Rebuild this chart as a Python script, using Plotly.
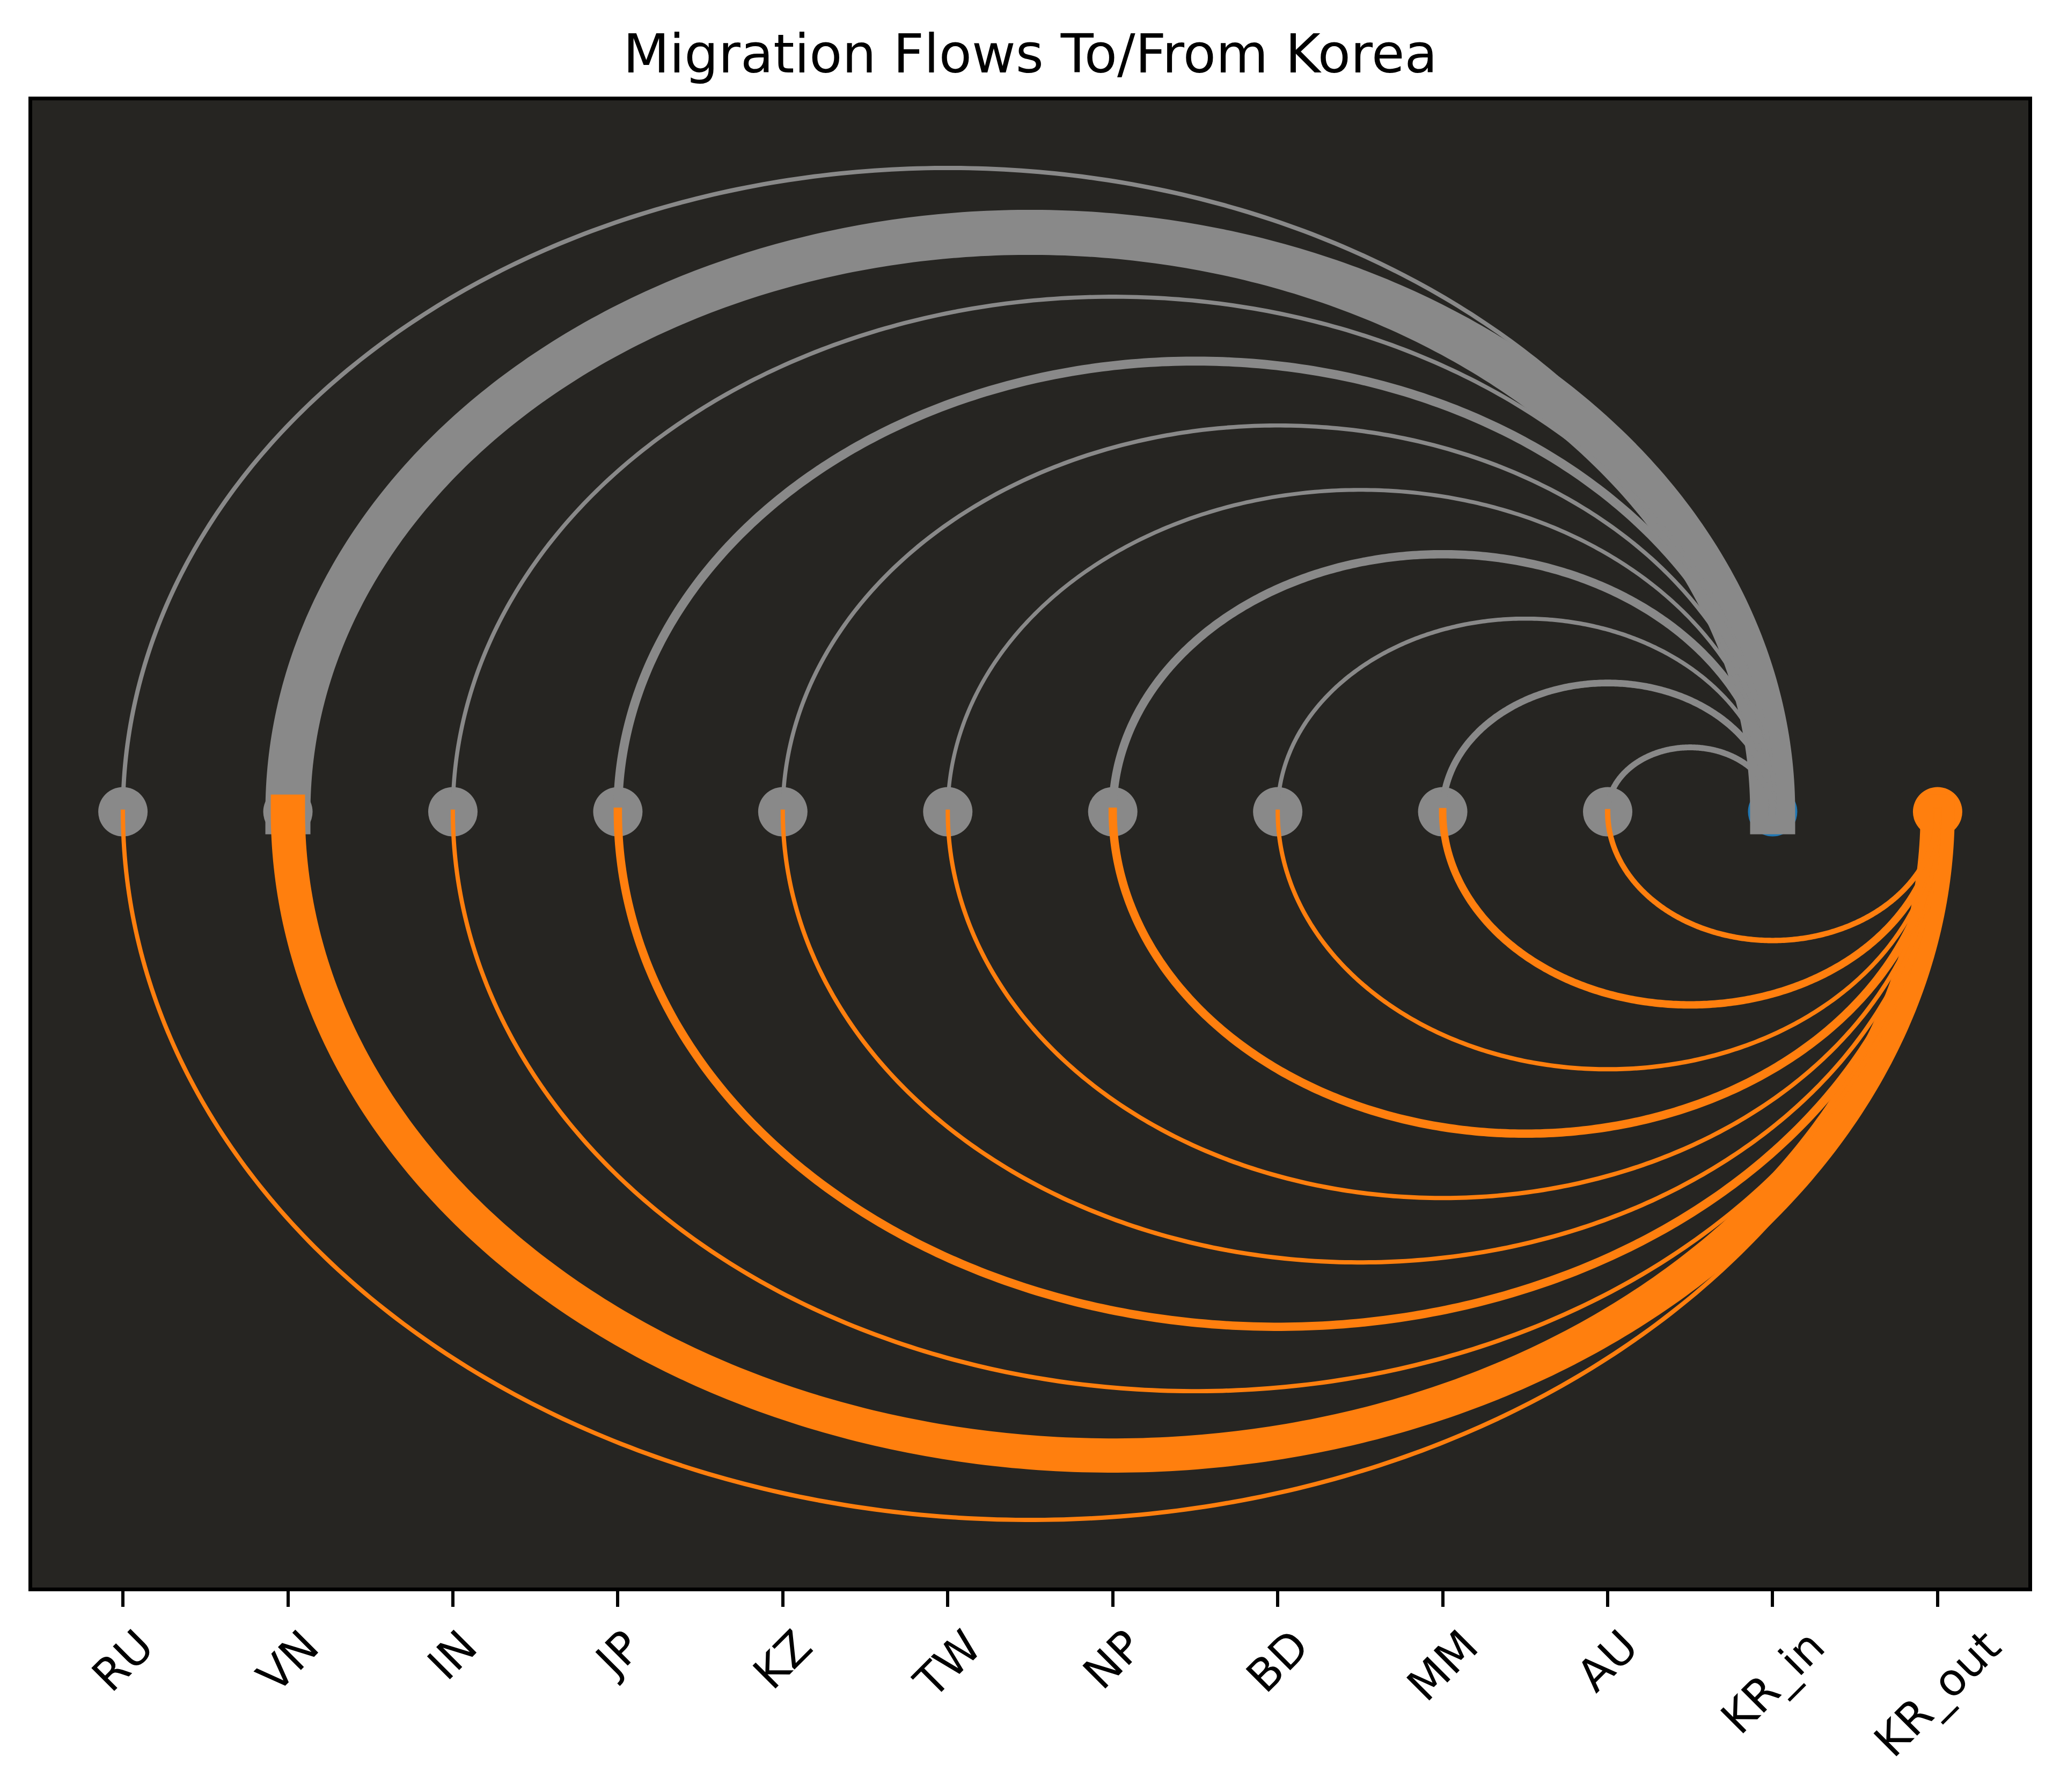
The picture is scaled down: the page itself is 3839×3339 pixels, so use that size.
import numpy as np
import plotly.graph_objects as go

# nodes along the x axis
countries = ["RU", "VN", "IN", "JP", "KZ", "TW", "NP", "BD", "MM", "AU"]
hubs = ["KR_in", "KR_out"]

# estimated flows (thousands of people), read from line thickness
inflow = [9.5, 100, 9, 20, 9, 8.5, 18.5, 9, 15, 13]
outflow = [9.5, 76, 9.5, 18.5, 9.5, 9.5, 18.5, 9.5, 16.5, 12]

GREY = "#898989"
ORANGE = "#ff7f0e"
BLUE = "#1f77b4"
BG = "#262522"

# the page body has an 8px margin, so the figure is a bit smaller than the window
W, H = 3839 - 8, 3339 - 8
M = dict(l=52, r=59, t=179, b=381)
X_RANGE = [-0.55, 11.55]
Y_RANGE = [-6.025, 5.525]
PX_PER_FLOW = 0.84  # line width in px per thousand

labels = countries + hubs
xpos = list(range(len(labels)))
kr_in = labels.index("KR_in")
kr_out = labels.index("KR_out")

px_per_y = (H - M["t"] - M["b"]) / (Y_RANGE[1] - Y_RANGE[0])


def arc(x0, x1, width, above):
    # semicircle from x0 to x1, with square ends like matplotlib's projecting caps
    xc, r = (x0 + x1) / 2, abs(x1 - x0) / 2
    t = np.linspace(np.pi, 0, 300) if x0 < x1 else np.linspace(0, np.pi, 300)
    sign = 1 if above else -1
    xs = xc + r * np.cos(t)
    ys = sign * r * np.sin(t)
    cap = width / 2 / px_per_y
    xs = np.concatenate([[xs[0]], xs, [xs[-1]]])
    ys = np.concatenate([[-sign * cap], ys, [-sign * cap]])
    return xs, ys


fig = go.Figure()

# nodes
node_colors = [GREY] * len(countries) + [BLUE, ORANGE]
fig.add_trace(go.Scatter(
    x=xpos, y=[0] * len(xpos), mode="markers",
    marker=dict(size=92, color=node_colors, line=dict(width=0)),
    hoverinfo="text", text=labels,
))

for i, c in enumerate(countries):
    w_in = inflow[i] * PX_PER_FLOW
    xs, ys = arc(i, kr_in, w_in, above=True)
    fig.add_trace(go.Scatter(x=xs, y=ys, mode="lines",
                             line=dict(color=GREY, width=w_in, simplify=False),
                             name=f"{c} → KR", hoverinfo="name"))
    w_out = outflow[i] * PX_PER_FLOW
    xs, ys = arc(kr_out, i, w_out, above=False)
    fig.add_trace(go.Scatter(x=xs, y=ys, mode="lines",
                             line=dict(color=ORANGE, width=w_out, simplify=False),
                             name=f"KR → {c}", hoverinfo="name"))

# rotated tick labels, centred under each tick
for x, lab in zip(xpos, labels):
    fig.add_annotation(
        x=x, xref="x", y=0, yref="paper", yshift=-58,
        text=lab, showarrow=False, textangle=-45,
        xanchor="center", yanchor="top",
        font=dict(family="DejaVu Sans", size=83, color="black"),
    )

fig.update_layout(
    width=W, height=H,
    margin=M,
    paper_bgcolor="white",
    plot_bgcolor=BG,
    showlegend=False,
    font=dict(family="DejaVu Sans", color="black"),
    title=dict(text="Migration Flows To/From Korea", x=0.5, xref="paper",
               y=1 - 92 / H, yref="container", xanchor="center", yanchor="middle",
               font=dict(size=100, color="black")),
    xaxis=dict(range=X_RANGE, showgrid=False, zeroline=False,
               tickvals=xpos, showticklabels=False,
               ticks="outside", ticklen=29, tickwidth=6, tickcolor="black",
               showline=True, linecolor="black", linewidth=7, mirror=True),
    yaxis=dict(range=Y_RANGE, showgrid=False, zeroline=False,
               showticklabels=False, ticks="",
               showline=True, linecolor="black", linewidth=7, mirror=True),
)

fig.write_html("out.html")
